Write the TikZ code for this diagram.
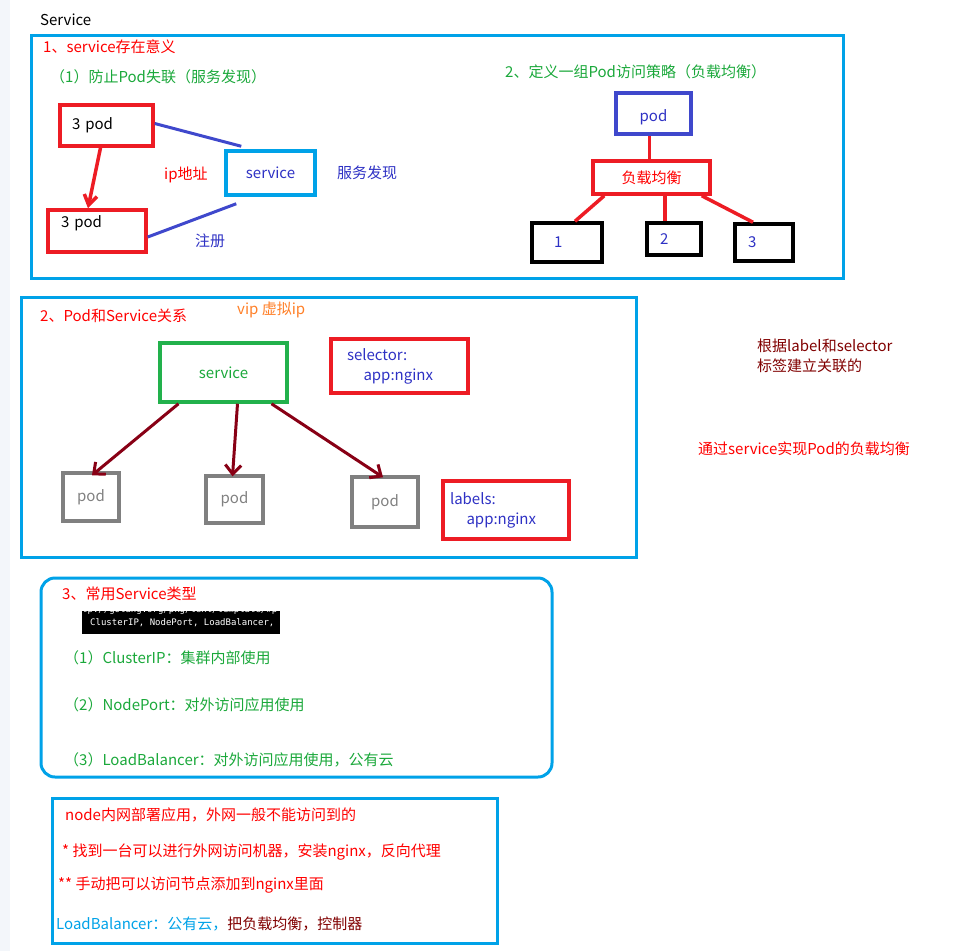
\documentclass[tikz,border=0pt]{standalone}
\usepackage{fontspec}
\setmainfont{Noto Sans CJK SC}
\newfontfamily\termfont{DejaVu Sans Mono}
\usetikzlibrary{arrows.meta}

\definecolor{frameblue}{HTML}{00A2E8}
\definecolor{paintred}{HTML}{ED1C24}
\definecolor{indigo}{HTML}{3F48CC}
\definecolor{paintgreen}{HTML}{22B14C}
\definecolor{darkred}{HTML}{880015}
\definecolor{textgreen}{HTML}{1AA83A}
\definecolor{textblue}{HTML}{2E31C4}
\definecolor{textorange}{HTML}{FF7F27}
\definecolor{textmaroon}{HTML}{800000}
\definecolor{stripgray}{HTML}{F3F6FA}

\tikzset{
  txt/.style={inner sep=0pt, anchor=west, font=\fontsize{15}{20}\selectfont},
  frame/.style={draw=frameblue, line width=3},
  redbox/.style={draw=paintred, line width=3.5, font=\fontsize{15}{20}\selectfont},
  bluebox/.style={draw=frameblue, line width=3.5, font=\fontsize{15}{20}\selectfont},
  indigobox/.style={draw=indigo, line width=3.5, font=\fontsize{15}{20}\selectfont},
  greenbox/.style={draw=paintgreen, line width=3.5, font=\fontsize{15}{20}\selectfont},
  numbox/.style={draw=black, line width=3.5, text=textblue, align=left, font=\fontsize{15}{20}\selectfont},
  graybox/.style={draw=gray, line width=3.5, text=gray, font=\fontsize{15}{20}\selectfont},
  link/.style={draw=indigo, line width=3},
  redline/.style={draw=paintred, line width=3.5},
  podarrow/.style={draw=darkred, line width=3, -{Straight Barb[length=9pt, width=16pt]}},
  redarrow/.style={draw=paintred, line width=3.5, -{Straight Barb[length=10pt, width=13pt]}},
  termtext/.style={inner sep=0pt, anchor=west, text=white, font=\termfont\fontsize{9}{10}\selectfont}
}

\begin{document}
\begin{tikzpicture}[x=1pt, y=-1pt]
\useasboundingbox (0,0) rectangle (958,951);
\fill[stripgray] (0,0) rectangle (10,951);

\node[txt] (title) at (40,20) {Service};

% 1
\draw[frame] (31,35) rectangle (843,278);
\node[txt, text=red] (h1) at (43,47) {1、service存在意义};
\node[txt, text=textgreen] (h1a) at (50,77) {（1）防止Pod失联（服务发现）};
\node[redbox, minimum width=93, minimum height=41, text width=69, align=left] (pod1) at (106.5,125.5) {3 pod};
\node[redbox, minimum width=98, minimum height=42, text width=72, align=left, text height=10, text depth=17] (pod2) at (97,231) {3 pod};
\node[bluebox, minimum width=89, minimum height=44, text=textblue] (svc) at (270.5,173) {service};
\draw[redarrow] ([xshift=-6pt]pod1.south) -- ([xshift=-9pt]pod2.north);
\draw[link] ([yshift=2pt]pod1.east) -- ([xshift=17pt,yshift=3pt]svc.north west);
\draw[link] ([yshift=-6pt]pod2.east) -- ([xshift=12pt,yshift=-7pt]svc.south west);
\node[txt, text=red] (ip) at (164,175) {ip地址};
\node[txt, text=textblue] (found) at (337,173) {服务发现};
\node[txt, text=textblue] (reg) at (195,241) {注册};

\node[txt, text=textgreen] (h2) at (505,72) {2、定义一组Pod访问策略（负载均衡）};
\node[indigobox, minimum width=75, minimum height=41, text=textblue, text height=17, text depth=2] (tpod) at (653.5,113.5) {pod};
\node[redbox, minimum width=117, minimum height=33, text=red] (lb) at (651.5,177.5) {负载均衡};
\node[numbox, minimum width=70, minimum height=39, text width=26] (n1) at (567,242.5) {1};
\node[numbox, minimum width=54, minimum height=32, text width=28] (n2) at (674,239) {2};
\node[numbox, minimum width=58, minimum height=37, text width=32] (n3) at (764,242.5) {3};
\draw[redline] ([xshift=-4pt]tpod.south) -- ([xshift=-2pt]lb.north);
\draw[redline] ([xshift=13pt]lb.south west) -- ([xshift=8pt]n1.north);
\draw[redline] ([xshift=13.5pt]lb.south) -- ([xshift=-9pt]n2.north);
\draw[redline] ([xshift=-10pt]lb.south east) -- ([xshift=-11pt]n3.north);

% 2
\draw[frame] (21,297) rectangle (636,557);
\node[txt, text=red] (h3) at (40,316) {2、Pod和Service关系};
\node[txt, text=textorange] (vip) at (237,310) {vip 虚拟ip};
\node[greenbox, minimum width=127, minimum height=59, text=textgreen] (svc2) at (223.5,372.5) {service};
\node[redbox, minimum width=137, minimum height=54, text width=105, align=left, text=textblue] (sel) at (399.5,366) {selector:\\\hspace*{1.1em}app:nginx};
\node[graybox, minimum width=56, minimum height=48] (podA) at (91,497) {pod};
\node[graybox, minimum width=57, minimum height=47] (podB) at (234.5,499.5) {pod};
\node[graybox, minimum width=66, minimum height=50] (podC) at (385,502) {pod};
\node[redbox, minimum width=126, minimum height=58, text width=112, align=left, text=textblue] (lab) at (506,510) {labels:\\\hspace*{1.1em}app:nginx};
\draw[podarrow] ([xshift=-45pt]svc2.south) -- ([xshift=1pt,yshift=-4pt]podA.north);
\draw[podarrow] ([xshift=14pt]svc2.south) -- ([xshift=-2pt,yshift=-2pt]podB.north);
\draw[podarrow] ([xshift=48pt]svc2.south) -- ([xshift=-2pt,yshift=-2pt]podC.north);

\node[txt, anchor=north west, align=left, text=textmaroon] (rel) at (757,339) {根据label和selector\\标签建立关联的};
\node[txt, text=red] (bal) at (698,449) {通过service实现Pod的负载均衡};

% 3
\draw[frame, rounded corners=14] (41,578) rectangle (552,777);
\node[txt, text=red] (h4) at (62,594) {3、常用Service类型};
\begin{scope}
\clip (82,611) rectangle (280,634);
\fill[black] (82,611) rectangle (280,634);
\node[termtext] (url) at (82,610) {tp://golang.org/pkg/text/template/\#p};
\node[termtext] (types) at (90,623) {ClusterIP, NodePort, LoadBalancer,};
\end{scope}
\node[txt, text=textgreen] (t1) at (64,658) {（1）ClusterIP：集群内部使用};
\node[txt, text=textgreen] (t2) at (64,705) {（2）NodePort：对外访问应用使用};
\node[txt, text=textgreen] (t3) at (64,760) {（3）LoadBalancer：对外访问应用使用，公有云};

% 4
\draw[frame] (52,798) rectangle (497,943);
\node[txt, text=red] (l1) at (65,815) {node内网部署应用，外网一般不能访问到的};
\node[txt, text=red] (l2) at (62,852) {* 找到一台可以进行外网访问机器，安装nginx，反向代理};
\node[txt, text=red] (l3) at (58,885) {** 手动把可以访问节点添加到nginx里面};
\node[txt] (l4) at (56,924) {\textcolor{frameblue}{LoadBalancer：公有云，}\textcolor{textmaroon}{把负载均衡，控制器}};
\end{tikzpicture}
\end{document}
